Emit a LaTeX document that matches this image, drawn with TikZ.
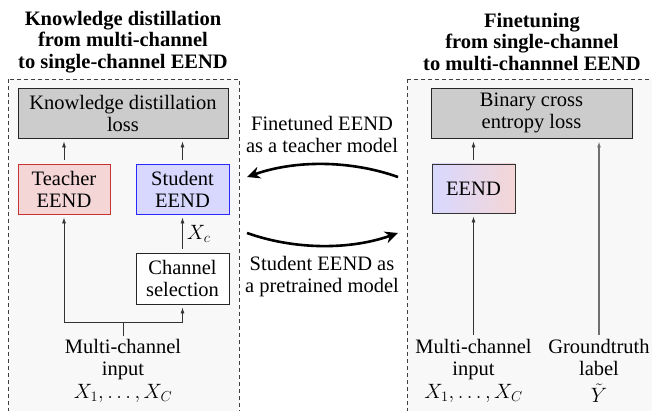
\documentclass[tikz,border=0pt]{standalone}
\usepackage{fontspec}
\setmainfont{Liberation Serif}
\usetikzlibrary{arrows.meta,calc}
\definecolor{panelbg}{HTML}{F8F8F8}
\definecolor{lossgray}{HTML}{CCCCCC}
\definecolor{tfill}{HTML}{F4D6D6}
\definecolor{tdraw}{HTML}{C83232}
\definecolor{sfill}{HTML}{D8D8FF}
\definecolor{sdraw}{HTML}{2828FF}
\definecolor{conn}{HTML}{333333}
\definecolor{gtline}{HTML}{707070}
\begin{document}
\begin{tikzpicture}[x=1pt,y=-1pt,
  every node/.style={font=\fontsize{20.5}{22}\selectfont, align=center, inner sep=0pt},
  panel/.style={draw=black!75, dashed, dash pattern=on 4pt off 3pt, fill=panelbg, line width=0.7pt},
  box/.style={draw=black!85, line width=0.9pt, minimum height=50pt},
  lossbox/.style={box, fill=lossgray},
  titletext/.style={font=\fontsize{20.5}{21.5}\selectfont\bfseries},
  labeltext/.style={anchor=north},
  smallarrow/.style={draw=conn, line width=0.8pt, -{Latex[length=6pt,width=4pt]}},
  bigarrow/.style={draw=black, line width=2.6pt, -{Stealth[length=13pt,width=12pt]}},
]
\useasboundingbox (0,0) rectangle (652,411);
% panels
\path[panel] (8,79) rectangle (239,418);
\path[panel] (407,79) rectangle (665,418);
% titles
\node[titletext] (tl) at (123,42) {Knowledge distillation\\from multi-channel\\to single-channel EEND};
\node[titletext] (tr) at (532,42) {Finetuning\\from single-channel\\to multi-channnel EEND};
% left panel
\node[lossbox, minimum width=210pt] (kd) at (123,113) {Knowledge distillation\\loss};
\node[box, draw=tdraw, fill=tfill, minimum width=92pt] (teacher) at (64,189) {Teacher\\EEND};
\node[box, draw=sdraw, fill=sfill, minimum width=93pt] (student) at (182.5,189) {Student\\EEND};
\node[box, fill=white, minimum width=93pt, minimum height=51pt] (chsel) at (182.5,278.5) {Channel\\selection};
\node[labeltext] (inl) at (123,339) {Multi-channel\\input\\[1pt]$X_1,\dots,X_C$};
\coordinate (jl) at (64,322);
\coordinate (jm) at (123,322);
\coordinate (jr) at (182.5,322);
\coordinate (jb) at (123,336);
\draw[smallarrow, shorten <=4pt, shorten >=3pt] (teacher.north) -- (teacher.north |- kd.south);
\draw[smallarrow, shorten <=4pt, shorten >=3pt] (student.north) -- (student.north |- kd.south);
\draw[smallarrow, shorten <=4pt, shorten >=3pt] (chsel.north) -- node[right=4pt] (xc) {$X_c$} (student.south);
\draw[draw=conn, line width=0.8pt] (jb) -- (jm);
\draw[smallarrow, shorten >=3pt] (jm) -- (jl) -- (teacher.south);
\draw[smallarrow, shorten >=3pt] (jm) -- (jr) -- (chsel.south);
% right panel
\node[lossbox, minimum width=201pt] (bce) at (531.5,113) {Binary cross\\entropy loss};
\node[box, draw=black!80, left color=sfill, right color=tfill, minimum width=83pt, minimum height=49pt] (eend) at (473.5,188.5) {EEND};
\node[labeltext] (inr) at (473.5,339) {Multi-channel\\input\\[1pt]$X_1,\dots,X_C$};
\node[labeltext] (gt) at (599,339) {Groundtruth\\label\\[5pt]$\tilde{Y}$};
\coordinate (ri) at (473.5,335);
\coordinate (rg) at (599,335);
\draw[smallarrow, shorten <=4pt, shorten >=3pt] (eend.north) -- (eend.north |- bce.south);
\draw[smallarrow, shorten >=3pt] (ri) -- (eend.south);
\draw[smallarrow, draw=gtline, line width=1.4pt, shorten >=3pt] (rg) -- (rg |- bce.south);
% middle
\node (ft) at (322,134) {Finetuned EEND\\as a teacher model};
\node (st) at (322,277) {Student EEND as\\a pretrained model};
\coordinate (a1s) at (398,177);
\coordinate (a1e) at (247,177);
\coordinate (a2s) at (247,233);
\coordinate (a2e) at (398,233);
\draw[bigarrow] (a1s) .. controls (350,160) and (295,160) .. (a1e);
\draw[bigarrow] (a2s) .. controls (295,250) and (350,250) .. (a2e);
\end{tikzpicture}
\end{document}
